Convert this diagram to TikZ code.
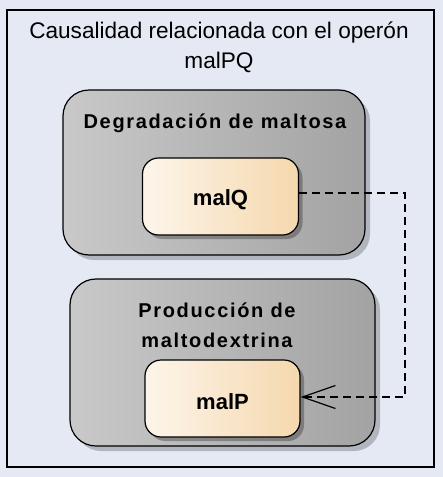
\documentclass[tikz,border=0pt]{standalone}
\usepackage{fontspec}
\setmainfont{Liberation Sans}
\newfontfamily\spacedbold[LetterSpace=8.3,BoldFont={* Bold}]{Liberation Sans}
\usetikzlibrary{arrows.meta,shadows}
\definecolor{bgc}{HTML}{E4E9F4}
\definecolor{grayL}{HTML}{C9C9C9}
\definecolor{grayR}{HTML}{A3A3A3}
\definecolor{peachL}{HTML}{FDF5EA}
\definecolor{peachR}{HTML}{F5D8AE}
\tikzset{
  x=1pt,y=-1pt,
  groupbox/.style={draw=black, line width=1.2pt, rounded corners=26pt, left color=grayL, right color=grayR,
    drop shadow={shadow xshift=5pt, shadow yshift=-5pt, fill=black, opacity=0.22}},
  itembox/.style={draw=black, line width=1.2pt, rounded corners=16pt, left color=peachL, right color=peachR,
    drop shadow={shadow xshift=4pt, shadow yshift=-4pt, fill=black, opacity=0.28}},
  grouptitle/.style={font=\spacedbold\bfseries\fontsize{20}{30}\selectfont, align=center},
  itemtext/.style={font=\bfseries\fontsize{22}{22}\selectfont},
  dep/.style={dash pattern=on 8pt off 5pt, line width=1.2pt, -{Straight Barb[length=33pt,width=23pt,line width=1.2pt]}}
}
\begin{document}
\begin{tikzpicture}
\fill[bgc] (0,0) rectangle (443,477);
\useasboundingbox (0,0) rectangle (443,477);
\node[draw=black, line width=1.2pt, minimum width=427pt, minimum height=457pt, inner sep=0pt] (frame) at (220.5,238.5) {};
\node[font=\fontsize{22.6}{30}\selectfont, align=center] (title) at (219,47) {Causalidad relacionada con el operón\\malPQ};
\node[groupbox, minimum width=302pt, minimum height=165pt, inner sep=0pt] (g1) at (214,172.5) {};
\node[grouptitle] (g1t) at (215,123) {Degradación de maltosa};
\node[groupbox, minimum width=305pt, minimum height=167pt, inner sep=0pt] (g2) at (222.5,362.5) {};
\node[grouptitle] (g2t) at (217,325) {Producción de\\maltodextrina};
\node[itembox, minimum width=156pt, minimum height=77pt, inner sep=0pt] (malQ) at (220.5,196.5) {};
\node[itemtext] at ([yshift=-3.5pt]malQ.center) {malQ};
\node[itembox, minimum width=155pt, minimum height=77pt, inner sep=0pt] (malP) at (222.5,398.5) {};
\node[itemtext] at ([yshift=-3.5pt]malP.center) {malP};
\coordinate (c1) at (405,193);
\coordinate (c2) at (405,397);
\draw[dep] (malQ.east |- c1) -- (c1) -- (c2) -- (malP.east |- c2);
\end{tikzpicture}
\end{document}
